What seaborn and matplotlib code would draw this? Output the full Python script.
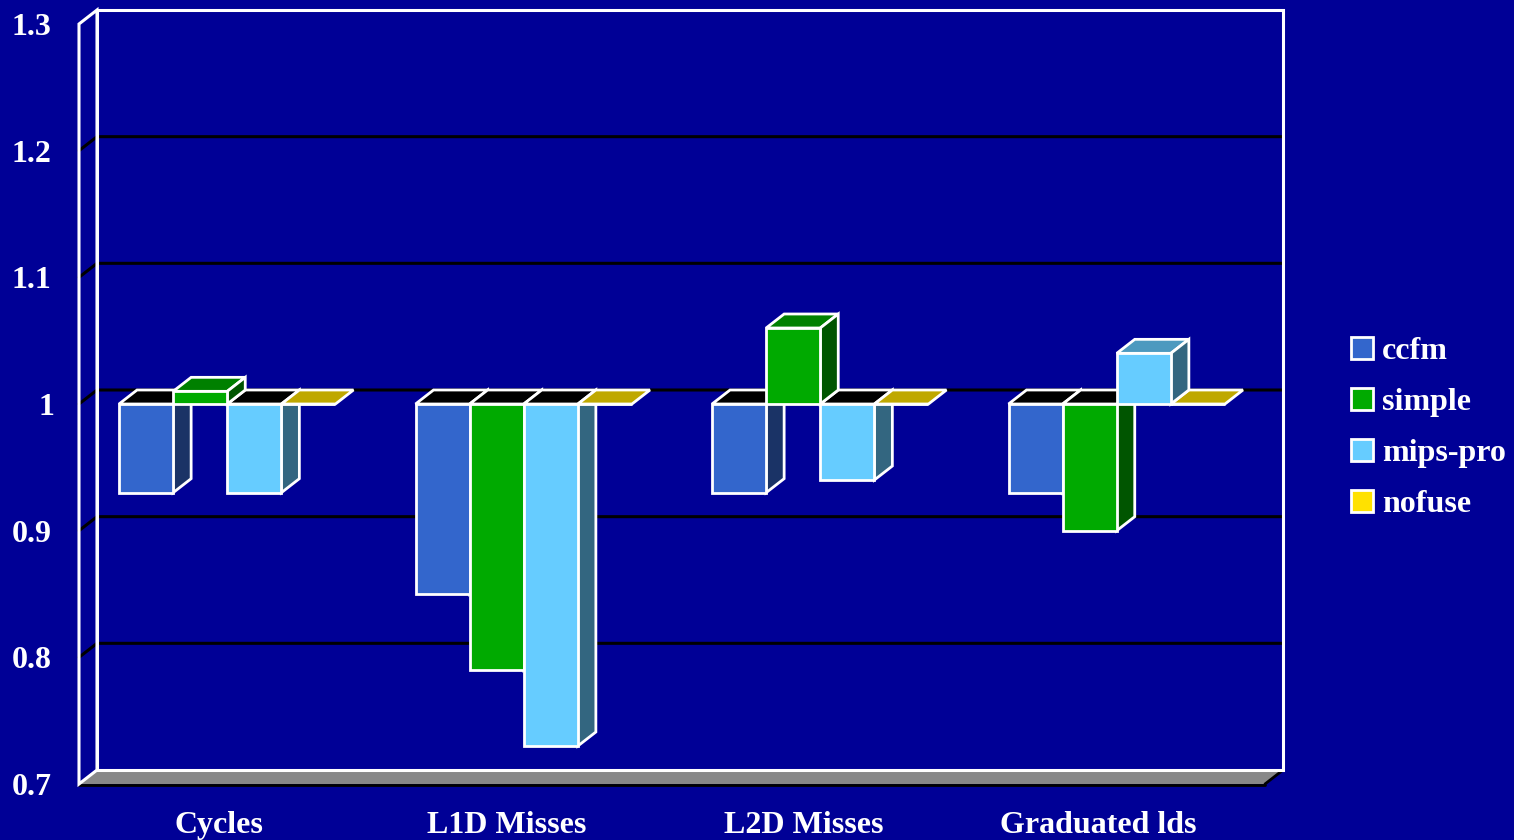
import matplotlib
matplotlib.use("Agg")
import matplotlib.pyplot as plt
from matplotlib.patches import Polygon
from matplotlib.transforms import Affine2D, IdentityTransform
import numpy as np
import pandas as pd
import seaborn as sns

categories = ["Cycles", "L1D Misses", "L2D Misses", "Graduated lds"]
series_names = ["ccfm", "simple", "mips-pro", "nofuse"]
ccfm = [0.93, 0.85, 0.93, 0.93]
simple = [1.01, 0.79, 1.06, 0.90]
mips_pro = [0.93, 0.73, 0.94, 1.04]
nofuse = [1.0, 1.0, 1.0, 1.0]
yticks = [0.7, 0.8, 0.9, 1.0, 1.1, 1.2, 1.3]
ytick_labels = ["0.7", "0.8", "0.9", "1", "1.1", "1.2", "1.3"]
baseline = 1.0

BG = "#000096"
front_colors = ["#3366cc", "#00aa00", "#66ccff", "#ffe100"]
side_colors = ["#1a3366", "#005500", "#336680", "#807000"]
top_colors = ["#264d99", "#008000", "#4c99bf", "#bfa800"]
W, H = 1514, 840
DX, DY = 18, 14
FS = 23

sns.set_theme(style="white")
plt.rcParams["font.family"] = ["Liberation Serif", "DejaVu Serif"]
plt.rcParams["font.weight"] = "bold"

df = pd.DataFrame({
    "category": np.repeat(categories, len(series_names)),
    "series": series_names * len(categories),
    "value": np.array([ccfm, simple, mips_pro, nofuse]).T.ravel(),
})
df["delta"] = df["value"] - baseline

fig = plt.figure(figsize=(W / 100, H / 100), dpi=100, facecolor=BG)
ax = fig.add_axes([79 / W, 1 - 784 / H, (1265 - 79) / W, (784 - 24) / H])
ax.patch.set_visible(False)

sns.barplot(data=df, x="category", y="delta", hue="series", order=categories,
            hue_order=series_names, palette=front_colors, saturation=1,
            width=0.73, gap=0, dodge=True, errorbar=None,
            edgecolor="white", linewidth=2, ax=ax)

# the bars hang from the baseline at 1, not from zero
for container in ax.containers:
    for bar in container:
        bar.set_y(bar.get_y() + baseline)

ax.set_xlim(-0.5, len(categories) - 0.5)
ax.set_ylim(min(yticks), max(yticks))
ax.set_yticks(yticks, ytick_labels)
ax.set_xlabel("")
ax.set_ylabel("")
for s in ax.spines.values():
    s.set_visible(False)
ax.tick_params(axis="y", length=0, pad=19.8, labelsize=FS, labelcolor="white")
ax.tick_params(axis="x", length=0, pad=19.6, labelsize=FS, labelcolor="white")

# per-label nudges of the captions, in pixels
label_nudge = [-8, -17, -17, -18]
for lab, dx in zip(ax.get_xticklabels(), label_nudge):
    lab.set_transform(lab.get_transform() + Affine2D().translate(dx, 0))
for lab, txt in zip(ax.get_yticklabels(), ytick_labels):
    if txt == "1":
        lab.set_transform(lab.get_transform() + Affine2D().translate(3, 0))

# pixel helpers for the pseudo-3D depth
fig.canvas.draw()
to_px = ax.transData.transform
ident = IdentityTransform()


def quad(p, q, color, z, edge="white", lw=2):
    a, b = to_px(p), to_px(q)
    d = np.array([DX, DY])
    ax.add_patch(Polygon([a, b, b + d, a + d], closed=True, facecolor=color,
                         edgecolor=edge, linewidth=lw, transform=ident,
                         clip_on=False, zorder=z, joinstyle="miter"))


xmin, xmax = ax.get_xlim()
ymin, ymax = ax.get_ylim()

# floor, back wall, left wall
quad((xmin, ymin), (xmax, ymin), "#888888", 1.2, edge="none", lw=0)
fl = to_px([(xmin, ymin), (xmax, ymin)])
ax.plot(fl[:, 0], fl[:, 1] - 1, color="black", lw=2, transform=ident, clip_on=False, zorder=1.3)
ax.plot([fl[1, 0], fl[1, 0] + DX], [fl[1, 1], fl[1, 1] + DY], color="black", lw=2,
        transform=ident, clip_on=False, zorder=1.3)

for v in yticks[1:-1]:
    a = to_px((xmin, v))
    b = to_px((xmax, v))
    ax.plot([a[0], a[0] + DX, b[0] + DX], [a[1], a[1] + DY, b[1] + DY], color="black",
            lw=2.2, transform=ident, clip_on=False, zorder=1.1)

c = to_px([(xmin, ymin), (xmax, ymin), (xmax, ymax), (xmin, ymax)])
back = c + np.array([DX, DY])
ax.add_patch(Polygon(back, closed=True, fill=False, edgecolor="white", linewidth=2.2,
                     transform=ident, clip_on=False, zorder=1.5))
left = np.array([c[0], back[0], back[3], c[3]])
ax.add_patch(Polygon(left, closed=True, fill=False, edgecolor="white", linewidth=2.2,
                     transform=ident, clip_on=False, zorder=1.5))

# 3-D faces built from the seaborn bars
for i, container in enumerate(ax.containers):
    for bar in container:
        x0, x1 = bar.get_x(), bar.get_x() + bar.get_width()
        y0 = bar.get_y()
        y1 = y0 + bar.get_height()
        ytop = max(y0, y1)
        ybot = min(y0, y1)
        below = y1 < baseline - 1e-9
        bar.set_zorder(4 + i + 0.5)
        bar.set_clip_on(False)
        top_color = "black" if below else top_colors[i]
        quad((x0, ytop), (x1, ytop), top_color, 3 + i * 0.1)
        if ytop > ybot:
            # sides of hanging bars sit under the next bar's top face
            quad((x1, ybot), (x1, ytop), side_colors[i], (2.5 + i * 0.1) if below else (4 + i))

sns.move_legend(ax, loc="center left", bbox_to_anchor=(1351 / W, 1 - 428 / H),
                bbox_transform=fig.transFigure, frameon=False, title=None,
                fontsize=FS, labelcolor="white", handlelength=0.69, handleheight=0.69,
                handletextpad=0.28, labelspacing=0.68, borderpad=0, borderaxespad=0)

fig.savefig("out.png", dpi=100, facecolor=BG)
